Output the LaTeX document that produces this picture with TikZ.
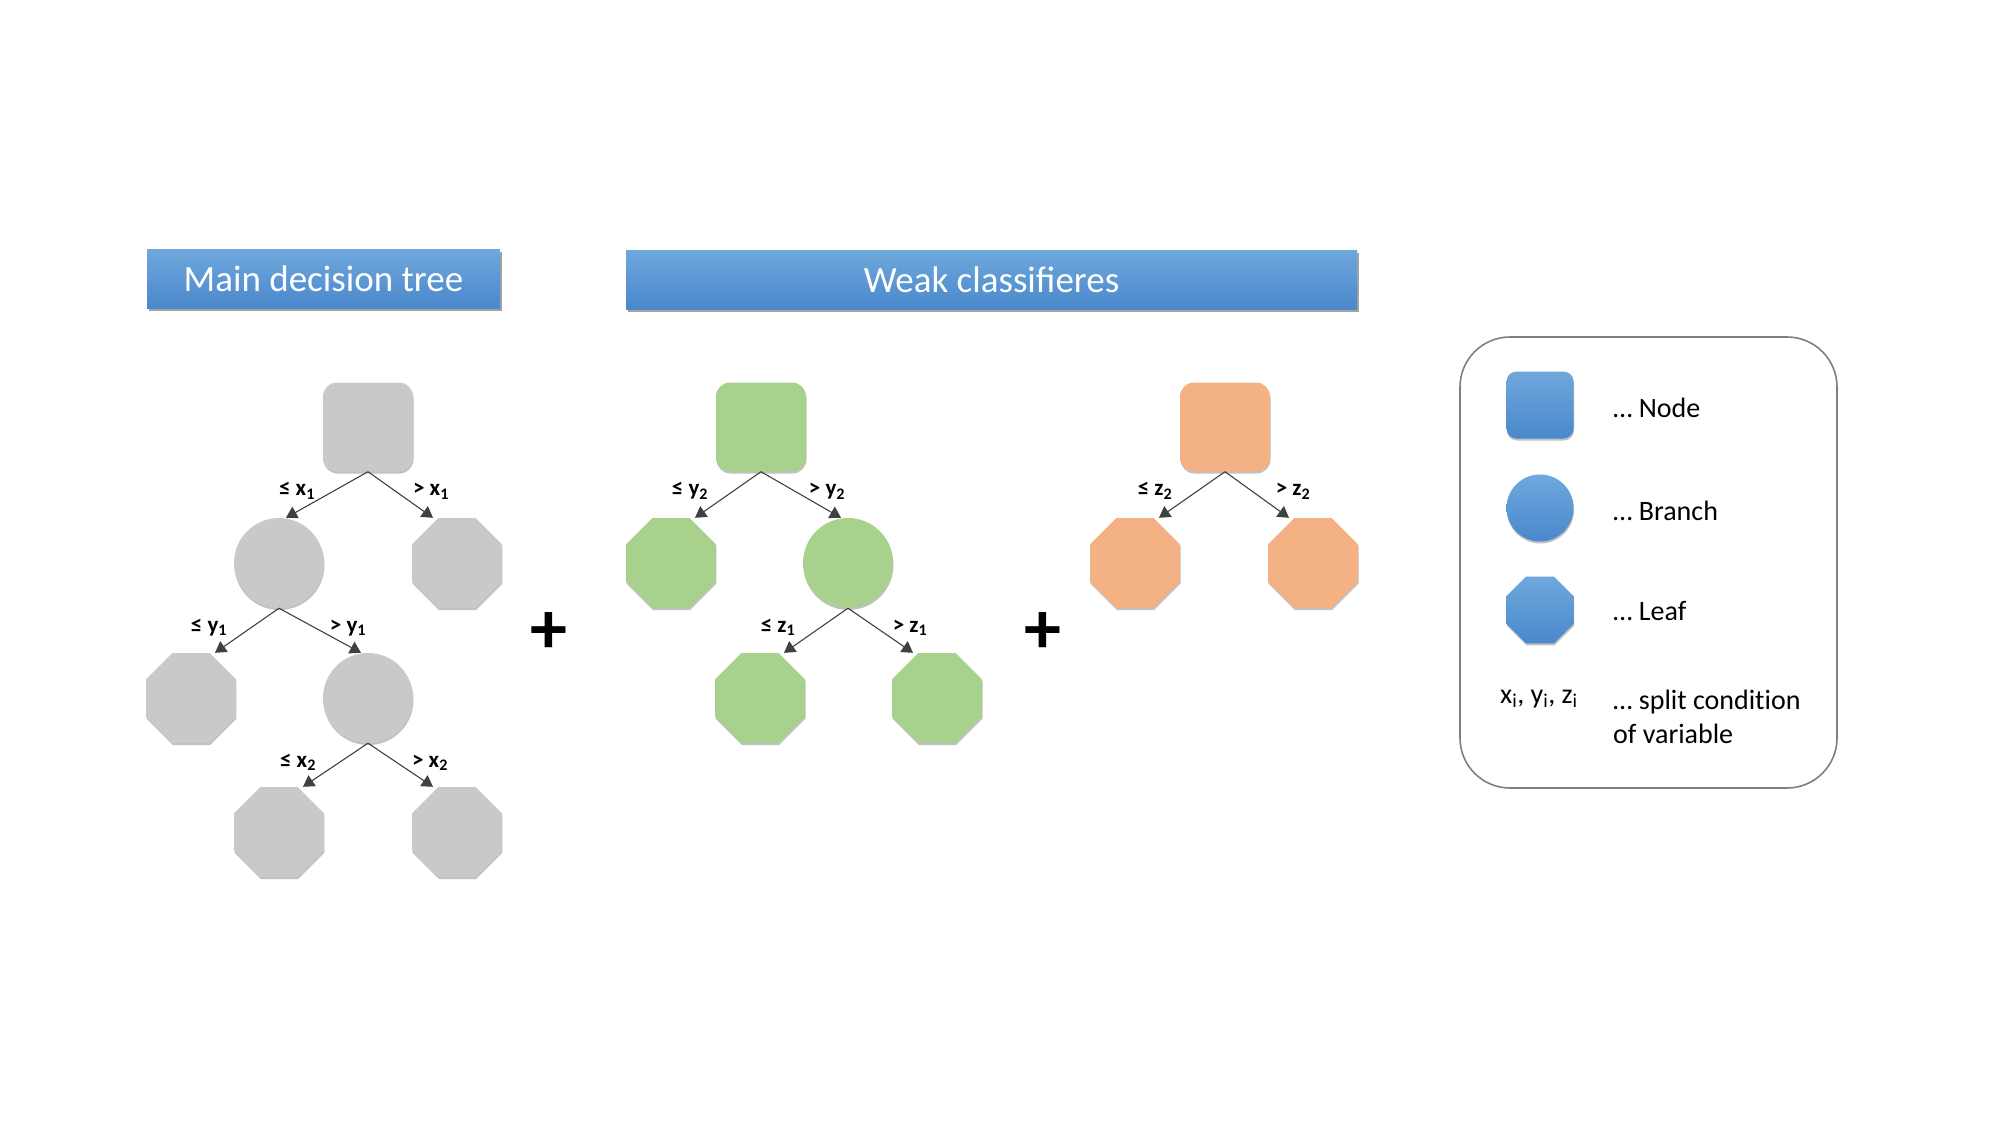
\documentclass[tikz,border=0pt]{standalone}
\usepackage{fontspec}
\setmainfont{Carlito}
\usetikzlibrary{shapes.geometric,shadows,arrows.meta}
\definecolor{nodegray}{HTML}{C9C9C9}
\definecolor{nodegreen}{HTML}{A9D18E}
\definecolor{nodeorange}{HTML}{F4B183}
\definecolor{bluetop}{HTML}{6FA8DC}
\definecolor{bluebot}{HTML}{4A88CC}
\definecolor{edgegray}{HTML}{404040}
\definecolor{framegray}{HTML}{7F7F7F}
\tikzset{
  shd/.style={drop shadow={shadow xshift=0.5pt, shadow yshift=-2pt, opacity=0.35, fill=black!70}},
  sqnode/.style={rectangle, rounded corners=14pt, minimum width=90pt, minimum height=89pt, inner sep=0pt, shd},
  brnode/.style={circle, minimum size=90pt, inner sep=0pt, shd},
  lfnode/.style={regular polygon, regular polygon sides=8, minimum size=97.4pt, inner sep=0pt, shd},
  gr/.style={fill=nodegray},
  gn/.style={fill=nodegreen},
  og/.style={fill=nodeorange},
  bl/.style={top color=bluetop, bottom color=bluebot},
  titlebox/.style={rectangle, bl, minimum height=59pt, inner sep=0pt, text=white,
     font=\fontsize{37}{44}\selectfont,
     drop shadow={shadow xshift=2pt, shadow yshift=-3pt, opacity=0.45, fill=black!80}},
  conn/.style={draw=edgegray, line width=1.1pt, -{Triangle[length=11pt,width=13pt]}},
  lbl/.style={anchor=base, font=\fontsize{23}{27}\bfseries\selectfont, inner sep=0pt},
  legtext/.style={anchor=base west, font=\fontsize{28}{34}\selectfont, inner sep=0pt},
  plussign/.style={font=\fontsize{74}{80}\bfseries\selectfont, inner sep=0pt}
}
\newcommand{\sbs}[1]{\textsubscript{#1}}
\begin{document}
\begin{tikzpicture}[x=1pt,y=-1pt]
\useasboundingbox (0,0) rectangle (2000,1125);
% titles
\node[titlebox, minimum width=353pt] (t1) at (323.5,278.5) {Main decision tree};
\node[titlebox, minimum width=731pt] (t2) at (991.5,279.5) {Weak classifieres};
% main tree
\node[sqnode, gr] (r0) at (368,427) {};
\node[brnode, gr] (b1) at (279,563) {};
\node[lfnode, gr] (l1) at (457,563) {};
\node[lfnode, gr] (l2) at (191,698) {};
\node[brnode, gr] (b2) at (368,698) {};
\node[lfnode, gr] (l3) at (279,832) {};
\node[lfnode, gr] (l4) at (457,832) {};
\draw[conn] (r0.south) -- ([xshift=7pt]b1.north);
\draw[conn] (r0.south) -- ([xshift=-24pt]l1.north);
\draw[conn] (b1.south) -- ([xshift=24pt]l2.north);
\draw[conn] (b1.south) -- ([xshift=-7pt]b2.north);
\draw[conn] (b2.south) -- ([xshift=24pt]l3.north);
\draw[conn] (b2.south) -- ([xshift=-24pt]l4.north);
\node[lbl] (lr0a) at ([shift={(-71pt,-24pt)}]r0.south) {≤ x\sbs{1}};
\node[lbl] (lr0b) at ([shift={(63pt,-24pt)}]r0.south) {> x\sbs{1}};
\node[lbl] (lb1a) at ([shift={(-70pt,-24pt)}]b1.south) {≤ y\sbs{1}};
\node[lbl] (lb1b) at ([shift={(69pt,-24pt)}]b1.south) {> y\sbs{1}};
\node[lbl] (lb2a) at ([shift={(-70pt,-24pt)}]b2.south) {≤ x\sbs{2}};
\node[lbl] (lb2b) at ([shift={(62pt,-24pt)}]b2.south) {> x\sbs{2}};
% plus
\node[plussign] (p1) at (549,633) {+};
\node[plussign] (p2) at (1043,633) {+};
% green tree
\node[sqnode, gn] (g0) at (761,427) {};
\node[lfnode, gn] (gl1) at (671,563) {};
\node[brnode, gn] (gb1) at (848,563) {};
\node[lfnode, gn] (gl2) at (760,698) {};
\node[lfnode, gn] (gl3) at (937,698) {};
\draw[conn] (g0.south) -- ([xshift=24pt]gl1.north);
\draw[conn] (g0.south) -- ([xshift=-7pt]gb1.north);
\draw[conn] (gb1.south) -- ([xshift=24pt]gl2.north);
\draw[conn] (gb1.south) -- ([xshift=-24pt]gl3.north);
\node[lbl] (lg0a) at ([shift={(-71pt,-24pt)}]g0.south) {≤ y\sbs{2}};
\node[lbl] (lg0b) at ([shift={(66pt,-24pt)}]g0.south) {> y\sbs{2}};
\node[lbl] (lgb1a) at ([shift={(-70pt,-24pt)}]gb1.south) {≤ z\sbs{1}};
\node[lbl] (lgb1b) at ([shift={(62pt,-24pt)}]gb1.south) {> z\sbs{1}};
% orange tree
\node[sqnode, og] (o0) at (1225,427) {};
\node[lfnode, og] (ol1) at (1135,563) {};
\node[lfnode, og] (ol2) at (1313,563) {};
\draw[conn] (o0.south) -- ([xshift=24pt]ol1.north);
\draw[conn] (o0.south) -- ([xshift=-24pt]ol2.north);
\node[lbl] (lo0a) at ([shift={(-70pt,-24pt)}]o0.south) {≤ z\sbs{2}};
\node[lbl] (lo0b) at ([shift={(68pt,-24pt)}]o0.south) {> z\sbs{2}};
% legend
\node[rectangle, rounded corners=50pt, draw=framegray, line width=1.6pt, minimum width=377pt, minimum height=451pt] (leg) at (1648.5,562.5) {};
\node[sqnode, bl, rounded corners=10pt, minimum width=67pt, minimum height=67pt] (ls) at (1540,405) {};
\node[brnode, bl, minimum size=67pt] (lc) at (1540,508) {};
\node[lfnode, bl, minimum size=72.5pt] (lo) at (1540,610) {};
\node[legtext] (tn) at (1613,417) {… Node};
\node[legtext] (tb) at (1613,520) {… Branch};
\node[legtext] (tl) at (1613,620) {… Leaf};
\node[legtext] (ts) at (1613,709) {… split condit\kern0pt ion};
\node[legtext] (ts2) at (1613,743) {of variable};
\node[anchor=base west, inner sep=0pt, font=\fontsize{28}{32}\selectfont] (tv) at (1500,703) {x\sbs{i}, y\sbs{i}, z\sbs{i}};
\end{tikzpicture}
\end{document}
